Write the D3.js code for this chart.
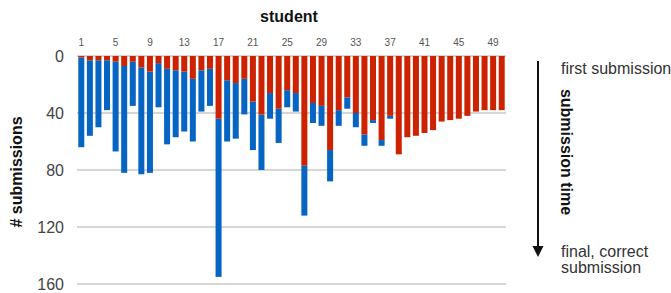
<!DOCTYPE html>
<html><head><meta charset="utf-8">
<script src="https://cdn.jsdelivr.net/npm/d3@7/dist/d3.min.js"></script>
<style>
body{margin:0;background:#fff;overflow:hidden}
text{font-family:"Helvetica Neue","Liberation Sans",Arial,sans-serif}
</style></head>
<body>
<svg id="c" width="671" height="293"></svg>
<script>
const students = d3.range(1, 51);
const redSegment = [1,3,3,3,4,7,4,8,11,5,9,10,11,16,10,9,44,17,19,16,32,41,26,37,24,26,77,33,35,66,38,29,40,55,45,59,42,69,57,56,54,52,46,45,44,42,39,38,38,38];
const totals = [64,56,50,38,67,82,35,83,82,36,62,57,53,60,39,35,155,60,58,41,66,80,44,61,36,39,112,47,49,88,49,37,50,63,47,63,44,69,57,56,54,52,46,45,44,42,39,38,38,38];
const yTicks = [0,40,80,120,160];
const xTickLabels = [1,5,9,13,17,21,25,29,33,37,41,45,49];

const svg = d3.select("#c");
const x = d3.scaleBand().domain(students).range([77,506]).paddingInner(0.3).paddingOuter(0.15);
const y = d3.scaleLinear().domain([0,160]).range([56,284]);

// grid
svg.append("g").selectAll("line").data(yTicks).join("line")
  .attr("x1",77).attr("x2",506).attr("y1",d=>y(d)).attr("y2",d=>y(d))
  .attr("stroke",d=>d===0?"#d4d4d4":"#c8c8c8").attr("stroke-width",d=>d===0?2:1.3);

// y labels
svg.append("g").selectAll("text").data(yTicks).join("text")
  .attr("x",64).attr("y",d=>y(d)).attr("dy","0.36em").attr("text-anchor","end")
  .attr("font-size",16).attr("fill","#444").text(d=>d);

// x tick labels
svg.append("g").selectAll("text").data(xTickLabels).join("text")
  .attr("x",d=>x(d)+x.bandwidth()/2).attr("y",42).attr("dy","0.36em").attr("text-anchor","middle")
  .attr("font-size",10).attr("fill","#555").text(d=>d);

// bars
const data = students.map((s,i)=>({s, red:redSegment[i], total:totals[i]}));
svg.append("g").selectAll("rect").data(data).join("rect")
  .attr("x",d=>x(d.s)).attr("width",x.bandwidth())
  .attr("y",d=>y(d.red)).attr("height",d=>y(d.total)-y(d.red)).attr("fill","#0664c2");
svg.append("g").selectAll("rect").data(data).join("rect")
  .attr("x",d=>x(d.s)).attr("width",x.bandwidth())
  .attr("y",y(0)).attr("height",d=>y(d.red)-y(0)).attr("fill","#cc2200");

// titles
svg.append("text").attr("x",289).attr("y",22).attr("text-anchor","middle")
  .attr("font-size",16).attr("font-weight","bold").attr("fill","#111").text("student");
svg.append("text").attr("transform","translate(22,172) rotate(-90)").attr("text-anchor","middle")
  .attr("font-size",16).attr("font-weight","bold").attr("fill","#111").text("# submissions");

// arrow
svg.append("line").attr("x1",538).attr("x2",538).attr("y1",61).attr("y2",248)
  .attr("stroke","#111").attr("stroke-width",2);
svg.append("path").attr("d","M532.5,246 L543.5,246 L538,257 Z").attr("fill","#111");

svg.append("text").attr("transform","translate(567,152) rotate(90)").attr("text-anchor","middle")
  .attr("dy","0.36em").attr("font-size",16).attr("font-weight","bold").attr("fill","#111").text("submission time");

svg.append("text").attr("x",561).attr("y",74).attr("font-size",16).attr("fill","#333").text("first submission");
svg.append("text").attr("x",561).attr("y",257).attr("font-size",16).attr("fill","#333").text("final, correct");
svg.append("text").attr("x",561).attr("y",273).attr("font-size",16).attr("fill","#333").text("submission");
</script>
</body></html>
